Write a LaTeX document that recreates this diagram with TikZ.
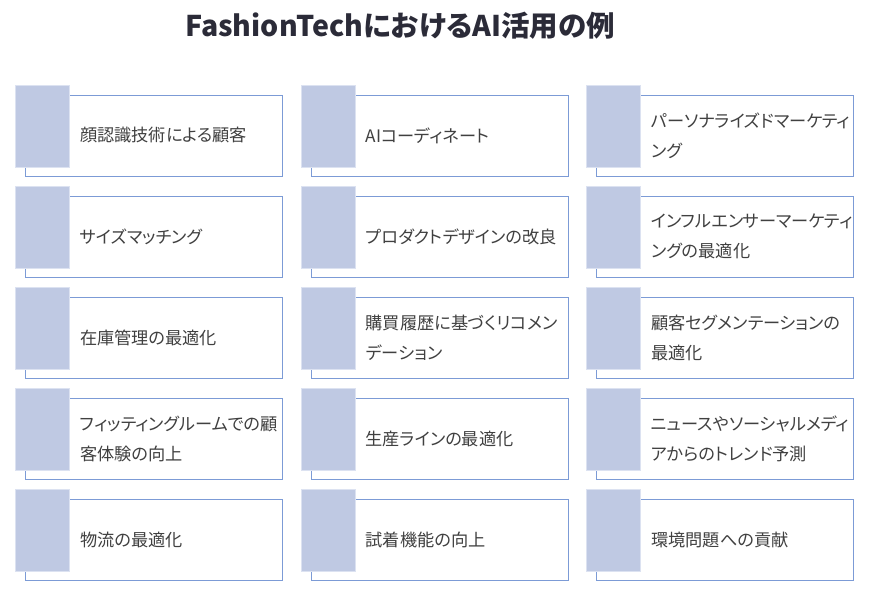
\documentclass[tikz,border=0pt]{standalone}
\usepackage{fontspec}
\newfontfamily\jp[RawFeature=+palt]{Noto Sans CJK JP}
\definecolor{sqfill}{HTML}{BFC9E3}
\definecolor{sqedge}{HTML}{DCE2F1}
\definecolor{outl}{HTML}{7C9BD6}
\definecolor{txt}{HTML}{404040}
\definecolor{ttl}{HTML}{2B2B38}
\tikzset{
  outlinebox/.style={draw=outl, line width=1.2pt, fill=white, inner sep=0pt, minimum width=257pt, minimum height=81pt, anchor=north west},
  squarebox/.style={draw=sqedge, line width=0.8pt, fill=sqfill, inner sep=0pt, minimum width=54pt, minimum height=82pt, anchor=north west},
  cardtext/.style={anchor=west, align=left, inner sep=0pt, text=txt, font=\jp\fontsize{17.2}{30}\selectfont},
  titletext/.style={text=ttl, font=\jp\bfseries\fontsize{28.5}{32}\selectfont, inner sep=0pt}
}
\newcommand\mycard[4]{%
  \node[outlinebox] (#1o) at (#2+10,#3+10) {};
  \node[squarebox] (#1s) at (#2,#3) {};
  \node[cardtext] (#1t) at (#2+65,#3+50.5) {#4};
}
\begin{document}
\begin{tikzpicture}[x=1pt,y=-1pt]
\useasboundingbox (0,0) rectangle (871,593);
\node[titletext] (title) at (400,26) {FashionTechにおけるAI活用の例};
\mycard{a1}{15}{85}{顔認識技術による顧客}
\mycard{a2}{15}{186}{サイズマッチング}
\mycard{a3}{15}{287}{在庫管理の最適化}
\mycard{a4}{15}{388}{フィッティングルームでの顧\\客体験の向上}
\mycard{a5}{15}{489}{物流の最適化}
\mycard{b1}{300.5}{85}{AIコーディネート}
\mycard{b2}{300.5}{186}{プロダクトデザインの改良}
\mycard{b3}{300.5}{287}{購買履歴に基づくリコメン\\デーション}
\mycard{b4}{300.5}{388}{生産ラインの最適化}
\mycard{b5}{300.5}{489}{試着機能の向上}
\mycard{c1}{586}{85}{パーソナライズドマーケティ\\ング}
\mycard{c2}{586}{186}{インフルエンサーマーケティ\\ングの最適化}
\mycard{c3}{586}{287}{顧客セグメンテーションの\\最適化}
\mycard{c4}{586}{388}{ニュースやソーシャルメディ\\アからのトレンド予測}
\mycard{c5}{586}{489}{環境問題への貢献}
\end{tikzpicture}
\end{document}
